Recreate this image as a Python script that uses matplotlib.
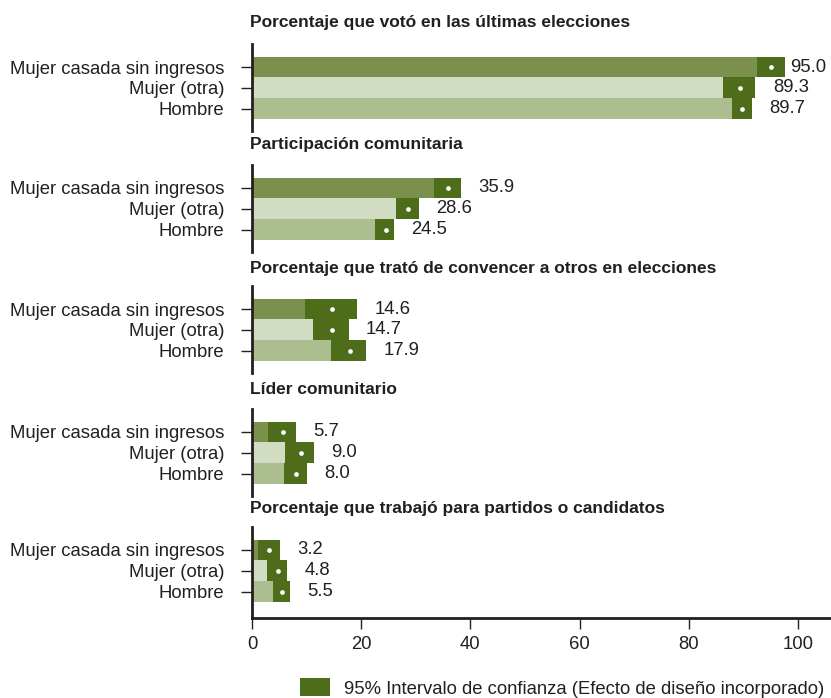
import matplotlib
matplotlib.use("Agg")
import matplotlib.pyplot as plt
from matplotlib.patches import Patch

plt.rcParams["font.family"] = ["Liberation Sans Narrow", "Liberation Sans", "DejaVu Sans"]

# --- data ---
titles = [
    "Porcentaje que votó en las últimas elecciones",
    "Participación comunitaria",
    "Porcentaje que trató de convencer a otros en elecciones",
    "Líder comunitario",
    "Porcentaje que trabajó para partidos o candidatos",
]
groups = ["Mujer casada sin ingresos", "Mujer (otra)", "Hombre"]

# point estimates per panel, order: Mujer casada, Mujer otra, Hombre
point = [
    [95.0, 89.3, 89.7],
    [35.9, 28.6, 24.5],
    [14.6, 14.7, 17.9],
    [5.7, 9.0, 8.0],
    [3.2, 4.8, 5.5],
]
ci_low = [
    [92.4, 86.2, 87.9],
    [33.4, 26.4, 22.6],
    [9.7, 11.1, 14.5],
    [2.9, 6.1, 5.8],
    [1.1, 2.8, 3.9],
]
ci_high = [
    [97.6, 92.2, 91.5],
    [38.3, 30.6, 26.0],
    [19.2, 17.7, 20.9],
    [8.0, 11.3, 10.0],
    [5.1, 6.5, 7.0],
]
xticks = [0, 20, 40, 60, 80, 100]
legend_label = "95% Intervalo de confianza (Efecto de diseño incorporado)"

bar_colors = ["#7b904c", "#d1dcc2", "#acbe8f"]
ci_color = "#4e6d1b"
text_color = "#231f20"
fs = 13.3

W, H = 831, 698
fig = plt.figure(figsize=(W / 100, H / 100), dpi=100)

row_px = 20.8
first_row_px = [67, 188, 309, 432, 550]
title_px = [22, 145, 268, 389, 509]
left_px = 252
xmax = 106
px_per_unit = 5.46

for i in range(len(titles)):
    top = first_row_px[i] - 1.1 * row_px
    pad_bot = 1.25 if i == len(titles) - 1 else 1.1
    height = (2 + 1.1 + pad_bot) * row_px
    ax = fig.add_axes([left_px / W, 1 - (top + height) / H,
                       xmax * px_per_unit / W, height / H])
    ys = range(len(groups))
    ax.barh(ys, ci_low[i], height=1.0, color=bar_colors, linewidth=0)
    widths = [h - l for l, h in zip(ci_low[i], ci_high[i])]
    ax.barh(ys, widths, left=ci_low[i], height=1.0, color=ci_color, linewidth=0)
    ax.plot(point[i], list(ys), "o", color="white", markersize=3.4, markeredgewidth=0)
    for y, hi, v in zip(ys, ci_high[i], point[i]):
        # labels near the right edge get pulled in so they stay on the page
        ax.text(min(hi + 3.2, 98.6), y, f"{v:.1f}", va="center", ha="left",
                fontsize=fs, color=text_color)
    ax.set_xlim(0, xmax)
    ax.set_ylim(2 + pad_bot, -1.1)
    ax.set_yticks(list(ys))
    ax.set_yticklabels(groups, fontsize=fs, color=text_color)
    ax.tick_params(axis="y", length=8, width=1, pad=12, color=text_color)
    for s in ["top", "right"]:
        ax.spines[s].set_visible(False)
    ax.spines["left"].set_linewidth(2)
    ax.spines["left"].set_color(text_color)
    if i < len(titles) - 1:
        ax.spines["bottom"].set_visible(False)
        ax.set_xticks([])
    else:
        ax.spines["bottom"].set_linewidth(2)
        ax.spines["bottom"].set_color(text_color)
        ax.set_xticks(xticks)
        ax.set_xticklabels([str(t) for t in xticks], fontsize=fs, color=text_color)
        ax.tick_params(axis="x", length=8, width=1, pad=5, color=text_color)
    fig.text(250 / W, 1 - title_px[i] / H, titles[i], fontsize=12.5,
             fontweight="bold", ha="left", va="center", color=text_color)

fig.legend(handles=[Patch(facecolor=ci_color, edgecolor="none")],
           labels=[legend_label], loc="center left",
           bbox_to_anchor=(300 / W, 1 - 688 / H), frameon=False,
           fontsize=fs, handlelength=1.65, handleheight=1.1, handletextpad=0.75,
           labelcolor=text_color, borderaxespad=0, borderpad=0)

fig.savefig("out.png", dpi=100)
